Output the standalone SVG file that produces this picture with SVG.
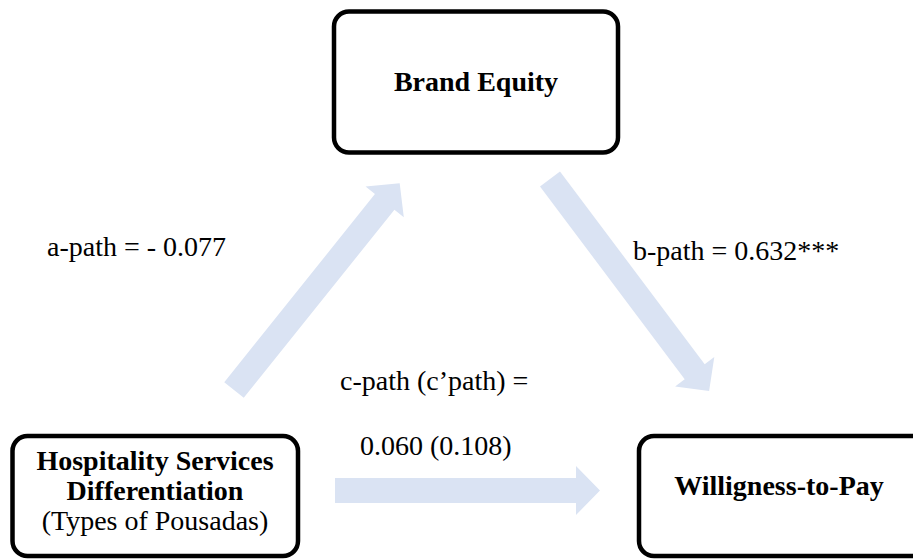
<svg xmlns="http://www.w3.org/2000/svg" width="913" height="560" viewBox="0 0 913 560">
  <style>
    .box { fill: #ffffff; stroke: #000000; stroke-width: 4.5; }
    .arrow { fill: #dae3f3; stroke: none; }
    .title { font-family: "Liberation Serif", "Times New Roman", serif; font-size: 28px; font-weight: bold; fill: #000000; text-anchor: middle; }
    .sub { font-family: "Liberation Serif", "Times New Roman", serif; font-size: 28px; fill: #000000; text-anchor: middle; }
    .label { font-family: "Liberation Serif", "Times New Roman", serif; font-size: 28px; fill: #000000; }
  </style>
  <defs>
    <!-- block arrow, tail at origin pointing along +x -->
    <path id="blockArrow" d="M0,-12.5 L241,-12.5 L241,-24.5 L265,0 L241,24.5 L241,12.5 L0,12.5 Z"/>
  </defs>

  <g id="connectors">
    <use href="#blockArrow" class="arrow" transform="translate(234,390) rotate(-51.3)"/>
    <use href="#blockArrow" class="arrow" transform="translate(550,179) rotate(53.1)"/>
    <use href="#blockArrow" class="arrow" transform="translate(335,490.5)"/>
  </g>

  <g id="path-labels">
    <text class="label" x="47" y="256">a-path = - 0.077</text>
    <text class="label" x="633" y="260">b-path = 0.632***</text>
    <text class="label" x="340" y="390">c-path (c’path) =</text>
    <text class="label" x="360" y="455">0.060 (0.108)</text>
  </g>

  <g id="brand-equity">
    <rect class="box" x="334" y="11.5" width="284" height="141" rx="15"/>
    <text class="title" x="476" y="91">Brand Equity</text>
  </g>

  <g id="hospitality-services">
    <rect class="box" x="12.5" y="436" width="285.5" height="120" rx="15"/>
    <text class="title" x="155" y="470">Hospitality Services</text>
    <text class="title" x="155" y="500">Differentiation</text>
    <text class="sub" x="155" y="530">(Types of Pousadas)</text>
  </g>

  <g id="willingness-to-pay">
    <rect class="box" x="639" y="436" width="290" height="120" rx="15"/>
    <text class="title" x="779" y="495">Willigness-to-Pay</text>
  </g>
</svg>
